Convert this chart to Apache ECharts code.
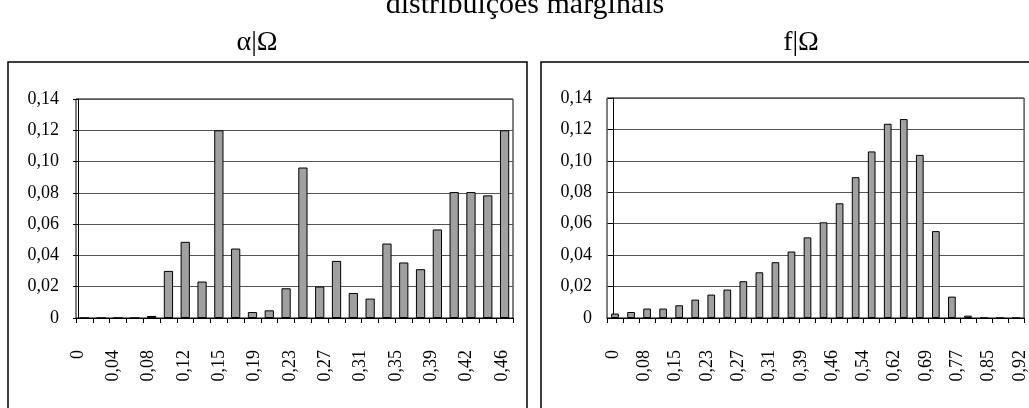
<!DOCTYPE html>
<html>
<head>
<meta charset="utf-8">
<script src="https://cdn.jsdelivr.net/npm/echarts@6/dist/echarts.min.js"></script>
<style>
html,body{margin:0;padding:0;background:#fff;}
#c{width:1029px;height:408px;}
</style>
</head>
<body>
<div id="c"></div>
<script>
// ---- data ----
var alphaCategories = ['0','0,02','0,04','0,06','0,08','0,10','0,12','0,13','0,15','0,17','0,19','0,21','0,23','0,25','0,27','0,29','0,31','0,33','0,35','0,37','0,38','0,40','0,42','0,44','0,46','0,48'];
var alphaValues = [0,0,0,0,0.0013,0.0301,0.0487,0.0233,0.12,0.0444,0.0038,0.0049,0.019,0.0962,0.0201,0.0365,0.016,0.0124,0.0476,0.0355,0.0312,0.0566,0.0805,0.0805,0.0784,0.12];
var alphaTickLabels = ['0','0,04','0,08','0,12','0,15','0,19','0,23','0,27','0,31','0,35','0,39','0,42','0,46'];

var fCategories = ['0','0,04','0,08','0,12','0,15','0,19','0,23','0,27','0,31','0,35','0,38','0,42','0,46','0,50','0,54','0,58','0,62','0,65','0,69','0,73','0,77','0,81','0,85','0,88','0,92','0,96'];
var fValues = [0.0028,0.0038,0.006,0.006,0.0081,0.0117,0.0149,0.0181,0.0234,0.0291,0.0355,0.0423,0.0513,0.0609,0.073,0.0896,0.106,0.1236,0.1266,0.1038,0.0553,0.0136,0.0015,0,0,0];
var fTickLabels = ['0','0,08','0,15','0,23','0,27','0,31','0,39','0,46','0,54','0,62','0,69','0,77','0,85','0,92'];

var yTickLabels = ['0','0,02','0,04','0,06','0,08','0,10','0,12','0,14'];

var mainTitle = 'distribuições marginais';
var leftTitle = 'α|Ω';
var rightTitle = 'f|Ω';

// ---- chart ----
var FONT = 'Liberation Serif';
var chart = echarts.init(document.getElementById('c'), null, {renderer: 'canvas'});

function idxList(n){ var a=[]; for(var i=0;i<n;i++) a.push(i); return a; }

function yAxis(gi, margin){
  return {
    type: 'value', gridIndex: gi, min: 0, max: 0.14, interval: 0.02,
    axisLine: {show: true, lineStyle: {color: '#000', width: 1}},
    axisTick: {show: true, length: 5, lineStyle: {color: '#000'}},
    splitLine: {show: true, lineStyle: {color: '#555', width: 1}},
    axisLabel: {
      margin: margin, color: '#000', fontFamily: FONT, fontSize: 18,
      formatter: function(v){ return yTickLabels[Math.round(v / 0.02)]; }
    }
  };
}

function catAxis(gi, cats){
  return {
    type: 'category', gridIndex: gi, data: cats, boundaryGap: true,
    axisLine: {show: true, lineStyle: {color: '#000', width: 1}},
    axisTick: {show: true, interval: 0, length: 5, alignWithLabel: false, lineStyle: {color: '#000'}},
    axisLabel: {show: false},
    splitLine: {show: false}
  };
}

function labelAxis(gi, labels, min, max){
  return {
    type: 'value', gridIndex: gi, position: 'bottom', min: min, max: max,
    axisLine: {show: false}, axisTick: {show: false}, splitLine: {show: false},
    axisLabel: {
      show: true, rotate: 90, margin: 32, color: '#000', fontFamily: FONT, fontSize: 18,
      customValues: idxList(labels.length),
      showMinLabel: true, showMaxLabel: true, hideOverlap: false,
      formatter: function(v){ var i = Math.round(v); return labels[i] !== undefined ? labels[i] : ''; }
    }
  };
}

var barStyle = {color: '#a0a0a0', borderColor: '#000', borderWidth: 1};

var option = {
  backgroundColor: '#fff',
  animation: false,
  title: [
    {text: mainTitle, left: 520, top: -15, textAlign: 'center',
     textStyle: {fontFamily: FONT, fontSize: 30, fontWeight: 'normal', color: '#000'}},
    {text: leftTitle, left: 252, top: 24, textAlign: 'center',
     textStyle: {fontFamily: FONT, fontSize: 28, fontWeight: 'normal', color: '#000'}},
    {text: rightTitle, left: 796, top: 24, textAlign: 'center',
     textStyle: {fontFamily: FONT, fontSize: 28, fontWeight: 'normal', color: '#000'}}
  ],
  graphic: [
    {type: 'rect', shape: {x: 8, y: 62, width: 519, height: 420},
     style: {fill: 'none', stroke: '#000', lineWidth: 1.5}, silent: true},
    {type: 'rect', shape: {x: 541, y: 62, width: 520, height: 420},
     style: {fill: 'none', stroke: '#000', lineWidth: 1.5}, silent: true}
  ],
  grid: [
    {left: 76, top: 99, width: 437, height: 219, show: true, borderColor: '#000', borderWidth: 1, backgroundColor: 'transparent'},
    {left: 607, top: 98, width: 420, height: 220, show: true, borderColor: '#000', borderWidth: 1, backgroundColor: 'transparent'}
  ],
  xAxis: [
    catAxis(0, alphaCategories),
    catAxis(1, fCategories),
    labelAxis(0, alphaTickLabels, -0.057, 12.31),
    labelAxis(1, fTickLabels, -0.19, 13.13)
  ],
  yAxis: [yAxis(0, 17), yAxis(1, 15)],
  series: [
    {type: 'bar', xAxisIndex: 0, yAxisIndex: 0, data: alphaValues, barWidth: '55%', itemStyle: barStyle, silent: true},
    {type: 'bar', xAxisIndex: 1, yAxisIndex: 1, data: fValues, barWidth: '48%', itemStyle: barStyle, silent: true}
  ]
};
chart.setOption(option);
</script>
</body>
</html>
